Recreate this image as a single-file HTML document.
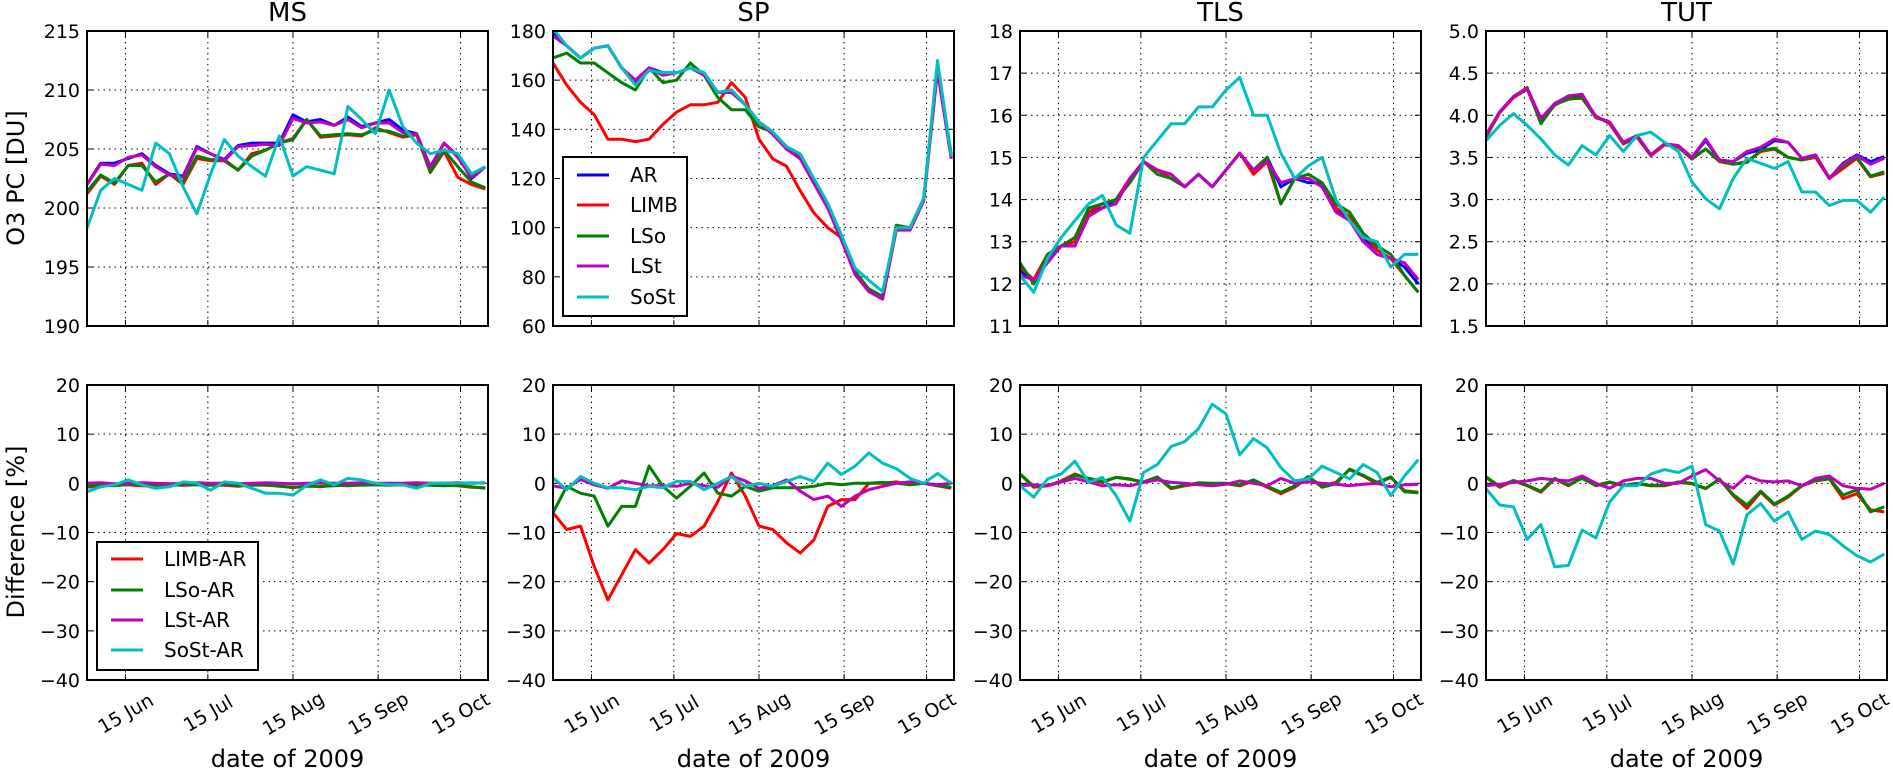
<!DOCTYPE html>
<html><head><meta charset="utf-8"><style>
html,body{margin:0;padding:0;background:#fff;}
svg{display:block;font-family:"DejaVu Sans","Liberation Sans",sans-serif;}
</style></head><body>
<svg id="chart" width="1893" height="773" viewBox="0 0 1893 773" xmlns="http://www.w3.org/2000/svg"></svg>
<script>
// ---- shared data ----
const days = [0,5,10,15,20,25,30,35,40,45,50,55,60,65,70,75,80,85,90,95,100,105,110,115,120,125,130,135,140,145];
const xTickDays = [14,44,75,106,136];
const xTickLabels = ["15 Jun","15 Jul","15 Aug","15 Sep","15 Oct"];
const panelTitles = ["MS","SP","TLS","TUT"];
const topSeriesNames = ["AR","LIMB","LSo","LSt","SoSt"];
const diffSeriesNames = ["LIMB-AR","LSo-AR","LSt-AR","SoSt-AR"];

// MS top
const msAR   = [202,203.8,203.8,204.2,204.6,203.6,202.9,202.7,205.2,204.6,204.1,205.3,205.5,205.5,205.5,207.9,207.3,207.5,207,207.7,206.9,207.2,207.5,206.6,206.3,203.5,205.5,204.4,202.5,203.5];
const msLIMB = [201.2,202.7,202.0,203.6,203.8,202.0,202.9,202.0,204.2,204.0,204.0,203.2,204.6,204.9,205.5,205.9,207.5,206.0,206.1,206.2,206.1,206.8,206.4,206.0,206.2,203.0,204.8,202.6,202.0,201.6];
const msLSo  = [201.4,202.8,202.1,203.6,203.6,202.2,202.9,202.2,204.4,204.1,204.1,203.2,204.4,204.9,205.5,205.8,207.5,206.1,206.2,206.3,206.2,206.6,206.5,206.1,206.3,203.1,204.9,203.5,202.2,201.7];
const msLSt  = [202,203.7,203.6,204.3,204.5,203.5,202.8,202.6,205.1,204.6,204.0,205.2,205.3,205.4,205.3,207.6,207.2,207.3,207.0,207.5,206.8,207.2,207.2,206.4,206.2,203.5,205.5,204.3,202.6,203.5];
const msSoSt = [198.3,201.5,202.5,202,201.5,205.5,204.6,201.8,199.5,202.9,205.8,204.4,203.5,202.7,206.1,202.7,203.5,203.2,202.9,208.6,207.5,206.3,210,206.9,205.5,204.6,204.9,204.6,202.9,203.5];
// SP top
const spAR   = [179,174,169,173,174,165,159,165,163,163,165,163,155,156,150,143,139,132,129,119,109,96,82,75,72,100,100,112,166,129];
const spLIMB = [167,158,151,146,136,136,135,136,142,147,150,150,151,159,153,136,128,125,115,106,100,96,81,74,71,100,100,112,164,128];
const spLSo  = [169,171,167,167,163,159,156,165,159,160,167,162,153,148,148,141,139,132,129,119,109,96,82,75,72,101,100,112,165,130];
const spLSt  = [178,174,169,173,174,165,160,165,162,163,165,162,155,155,150,143,138,132,128,118,108,95,81,74,71,99,99,111,164,128];
const spSoSt = [181,174,169,173,174,165,158,164,163,163,165,163,155,156,150,143,139,133,130,120,110,97,83.5,78.6,74,100,100,112,168,129];
// TLS top
const tlsAR   = [12.3,12.1,12.6,12.9,12.9,13.7,13.8,14.0,14.5,14.9,14.7,14.6,14.3,14.6,14.3,14.7,15.1,14.7,15.0,14.3,14.5,14.4,14.4,13.8,13.5,13.1,12.8,12.6,12.4,12.0];
const tlsLIMB = [12.4,12.1,12.7,12.9,13.0,13.7,13.9,14.0,14.5,14.9,14.7,14.5,14.3,14.6,14.3,14.7,15.1,14.6,14.9,13.9,14.5,14.5,14.3,13.8,13.6,13.2,12.8,12.6,12.2,11.8];
const tlsLSo  = [12.5,12.0,12.7,12.9,13.1,13.8,13.9,14.0,14.4,14.9,14.6,14.5,14.3,14.6,14.3,14.7,15.1,14.7,15.0,13.9,14.5,14.6,14.4,13.9,13.7,13.2,12.9,12.7,12.2,11.8];
const tlsLSt  = [12.2,12.1,12.5,12.9,12.9,13.6,13.8,13.9,14.5,14.9,14.7,14.6,14.3,14.6,14.3,14.7,15.1,14.7,14.9,14.4,14.5,14.5,14.3,13.7,13.5,13.0,12.7,12.6,12.5,12.1];
const tlsSoSt = [12.2,11.8,12.6,13.1,13.5,13.9,14.1,13.4,13.2,15.0,15.4,15.8,15.8,16.2,16.2,16.6,16.9,16.0,16.0,15.1,14.5,14.8,15.0,14.0,13.5,13.1,13.0,12.4,12.7,12.7];
// TUT top
const tutAR   = [3.76,4.04,4.22,4.32,3.96,4.14,4.22,4.24,3.98,3.92,3.68,3.76,3.53,3.66,3.64,3.5,3.7,3.47,3.45,3.55,3.59,3.7,3.68,3.49,3.53,3.25,3.43,3.53,3.45,3.51];
const tutLIMB = [3.74,4.03,4.21,4.31,3.92,4.12,4.2,4.2,3.99,3.9,3.66,3.74,3.52,3.65,3.62,3.48,3.6,3.45,3.42,3.45,3.57,3.6,3.5,3.47,3.5,3.25,3.37,3.49,3.27,3.31];
const tutLSo  = [3.75,4.04,4.22,4.33,3.9,4.13,4.19,4.21,3.97,3.92,3.67,3.75,3.53,3.66,3.63,3.49,3.6,3.46,3.42,3.44,3.58,3.61,3.5,3.47,3.52,3.26,3.4,3.5,3.28,3.33];
const tutLSt  = [3.77,4.04,4.22,4.32,3.96,4.14,4.23,4.25,3.98,3.92,3.68,3.76,3.53,3.66,3.64,3.5,3.72,3.47,3.45,3.57,3.62,3.72,3.68,3.49,3.53,3.25,3.42,3.52,3.42,3.49];
const tutSoSt = [3.7,3.88,4.02,3.88,3.72,3.53,3.41,3.64,3.53,3.76,3.57,3.76,3.8,3.68,3.57,3.21,3.01,2.89,3.25,3.49,3.43,3.37,3.45,3.09,3.09,2.93,2.99,2.99,2.85,3.03];

// Differences
const msLIMBd = [-0.8,-0.5,-0.4,-0.3,-0.5,-0.6,-0.3,-0.4,-0.3,-0.3,-0.4,-0.6,-0.3,-0.4,-0.5,-0.9,-0.5,-0.7,-0.4,-0.5,-0.3,-0.3,-0.3,-0.3,-0.4,-0.3,-0.4,-0.5,-0.8,-0.9];
const msLSod  = [-0.6,-0.4,-0.5,-0.2,-0.3,-0.5,-0.4,-0.3,-0.3,-0.4,-0.3,-0.5,-0.4,-0.3,-0.6,-0.8,-0.6,-0.6,-0.5,-0.4,-0.4,-0.3,-0.4,-0.3,-0.3,-0.4,-0.5,-0.4,-0.7,-1.0];
const msLStd  = [0,0.1,-0.1,0,0.1,0,-0.1,0,0.1,0,0,-0.1,0,0.1,0,-0.1,0,0.1,0,0,0.1,0,0,0,0.1,0,0,0.1,0,0.1];
const msSoStd = [-1.7,-0.7,-0.3,0.7,-0.3,-1,-0.7,0.3,0,-1.4,0.3,0,-1,-2,-2,-2.4,-0.4,0.7,-0.3,1,0.7,0,-0.3,-0.3,-1,0,0,0,0.1,0];
const spLIMBd = [-6,-9.4,-8.7,-16.9,-23.7,-18.6,-13.5,-16.2,-13.5,-10.2,-10.8,-8.7,-3.7,2.1,-2.6,-8.7,-9.4,-12.1,-14.2,-11.5,-4.7,-3.3,-3.3,0,0,0.3,-0.3,0,-0.5,-1];
const spLSod  = [-6,-0.6,-2,-2.6,-8.7,-4.7,-4.7,3.5,-0.6,-3,-0.6,2.1,-2,-2.6,-0.6,-1.6,-0.9,-0.9,-0.9,-0.6,0,-0.3,0,0,0.2,0,-0.3,0,-0.5,-0.8];
const spLStd  = [-0.5,-1,0.8,-0.3,-1,0.5,0,-0.5,-0.5,-0.6,0,-0.5,-0.8,1.5,0.5,-1,-0.5,0.7,-1.6,-3.3,-2.6,-4.7,-2.6,-1.3,-0.6,0,0.3,0,-0.3,0];
const spSoStd = [1.1,-1.3,1.4,0,-0.9,-0.9,-1.3,-0.6,-0.9,0.4,0.4,-1.3,0,1.4,-0.6,0,-0.6,0.4,1.4,0.4,4.1,1.8,3.5,6.2,4.1,3,1,0,2,0];
const tlsLIMBd = [1.9,-0.8,-0.5,0.5,1.9,0.9,0.2,1.2,0.9,0.2,1.2,-1.1,-0.5,-0.1,-0.1,-0.1,-0.5,0.5,-0.8,-2.1,-0.8,1.2,-0.5,0.2,2.8,1.5,-0.1,1.2,-1.5,-1.8];
const tlsLSod  = [1.9,-0.6,-0.4,0.3,1.7,1.0,0.4,1.2,0.8,0.3,1.3,-0.9,-0.4,0.1,0.0,0.0,-0.3,0.7,-0.6,-1.8,-0.5,1.4,-0.8,-0.1,2.9,1.6,0.2,1.3,-1.7,-1.9];
const tlsLStd  = [-0.5,-0.3,-0.5,0.3,1,0.3,-0.5,-0.3,-0.5,0.2,0.7,0.2,0,-0.3,-0.5,-0.2,0.5,0,-0.5,1,0,0.3,0,-0.2,-0.5,-0.2,0,-0.7,-0.3,-0.2];
const tlsSoStd = [-0.5,-2.8,0.9,1.9,4.5,0.2,1.2,-2.5,-7.7,2.2,3.8,7.5,8.5,11.1,16.1,14.1,5.8,9.1,7.2,3.2,0.5,0.9,3.5,2.2,0.9,3.8,2.2,-2.5,1.5,4.8];
const tutLIMBd = [1.2,-0.8,0.5,-0.5,-1.8,0.9,-0.5,1.2,-0.5,0.2,-0.5,-0.1,-0.5,-0.5,0.2,-0.1,-1.1,0.9,-2.5,-5.1,-1.8,-4.4,-2.8,-0.5,0.5,0.9,-3.1,-2.1,-5.4,-5.8];
const tutLSod  = [1.3,-0.6,0.6,-0.4,-1.6,1.0,-0.3,1.0,-0.4,0.3,-0.4,0.0,-0.4,-0.4,0.3,0.0,-1.0,0.8,-2.3,-4.4,-1.6,-4.2,-2.6,-0.4,0.6,1.0,-2.4,-1.3,-5.8,-4.8];
const tutLStd  = [-0.5,-0.2,0.2,0.5,1,0.7,0.5,1.5,0,-1,0.5,1,1,0,0,1.5,2.8,0.5,-1,1.5,0.5,0.3,0.5,-0.5,1,1.5,-0.5,-1,-1.2,0];
const tutSoStd = [-1.1,-4.4,-4.8,-11.4,-8.4,-17,-16.7,-9.5,-11.1,-3.8,-0.5,-0.5,1.9,2.8,2.2,3.5,-8.4,-9.7,-16.4,-6.4,-4.1,-7.7,-5.8,-11.4,-9.7,-10.4,-12.7,-14.7,-16,-14.4];

const topData = [
  [msAR,msLIMB,msLSo,msLSt,msSoSt],
  [spAR,spLIMB,spLSo,spLSt,spSoSt],
  [tlsAR,tlsLIMB,tlsLSo,tlsLSt,tlsSoSt],
  [tutAR,tutLIMB,tutLSo,tutLSt,tutSoSt]
];
const diffData = [
  [msLIMBd,msLSod,msLStd,msSoStd],
  [spLIMBd,spLSod,spLStd,spSoStd],
  [tlsLIMBd,tlsLSod,tlsLStd,tlsSoStd],
  [tutLIMBd,tutLSod,tutLStd,tutSoStd]
];
const topTicks = [
  [190,195,200,205,210,215],
  [60,80,100,120,140,160,180],
  [11,12,13,14,15,16,17,18],
  [1.5,2.0,2.5,3.0,3.5,4.0,4.5,5.0]
];
const topTickLabels = [
  ["190","195","200","205","210","215"],
  ["60","80","100","120","140","160","180"],
  ["11","12","13","14","15","16","17","18"],
  ["1.5","2.0","2.5","3.0","3.5","4.0","4.5","5.0"]
];
const diffTicks = [-40,-30,-20,-10,0,10,20];
const diffTickLabels = ["\u221240","\u221230","\u221220","\u221210","0","10","20"];

// ---- drawing ----
const NS = "http://www.w3.org/2000/svg";
const svg = document.getElementById('chart');
const topColors = ["#0000ff","#ff0000","#008000","#bf00bf","#00bfbf"];
const diffColors = ["#ff0000","#008000","#bf00bf","#00bfbf"];
const lefts = [87,553,1020,1486];
const PW = 401;
const rows = [{top:31,bottom:326},{top:385,bottom:680}];
const X0 = 0, X1 = 146;

function mk(tag, attrs, parent){
  const e = document.createElementNS(NS, tag);
  for (const k in attrs) e.setAttribute(k, attrs[k]);
  (parent||svg).appendChild(e);
  return e;
}
function xs(left, d){ return left + (d - X0) / (X1 - X0) * PW; }
function ys(row, v, lo, hi){ return row.bottom - (v - lo) / (hi - lo) * (row.bottom - row.top); }

function drawPanel(pi, ri, ticks, tickLabels, series, colors, names, pname){
  const left = lefts[pi], row = rows[ri];
  const lo = ticks[0], hi = ticks[ticks.length-1];
  const g = mk('g', {});
  
  
  const cid = 'clip' + pi + '_' + ri;
  const cp = mk('clipPath', {id: cid}, g);
  mk('rect', {x:left, y:row.top, width:PW, height:row.bottom-row.top}, cp);
  ticks.forEach((t,i) => {
    const y = ys(row, t, lo, hi);
    if (i>0 && i<ticks.length-1) {
      const gl = mk('line', {x1:left, x2:left+PW, y1:y, y2:y, stroke:'#000', 'stroke-width':1, 'stroke-dasharray':'1.5,4'}, g);
      
      
    }
    mk('line', {x1:left, x2:left+6, y1:y, y2:y, stroke:'#000', 'stroke-width':1}, g);
    mk('line', {x1:left+PW-6, x2:left+PW, y1:y, y2:y, stroke:'#000', 'stroke-width':1}, g);
    const tl = mk('text', {x:left-7, y:y+7, 'text-anchor':'end', 'font-size':19, fill:'#000'}, g);
    tl.textContent = tickLabels[i];
    
    
  });
  xTickDays.forEach((d,i) => {
    const x = xs(left, d);
    const gl = mk('line', {x1:x, x2:x, y1:row.top, y2:row.bottom, stroke:'#000', 'stroke-width':1, 'stroke-dasharray':'1.5,4'}, g);
    
    
    mk('line', {x1:x, x2:x, y1:row.bottom-6, y2:row.bottom, stroke:'#000', 'stroke-width':1}, g);
    mk('line', {x1:x, x2:x, y1:row.top, y2:row.top+6, stroke:'#000', 'stroke-width':1}, g);
    if (ri === 1) {
      const tl = mk('text', {x:x, y:720, 'text-anchor':'middle', 'font-size':19, fill:'#000', transform:'rotate(-30 '+x+' 713)'}, g);
      tl.textContent = xTickLabels[i];
      
      
    }
  });
  const sg = mk('g', {'clip-path':'url(#'+cid+')'}, g);
  series.forEach((vals, si) => {
    const pts = vals.map((v,k) => xs(left, days[k]).toFixed(1) + ',' + ys(row, v, lo, hi).toFixed(1)).join(' ');
    const pl = mk('polyline', {points:pts, fill:'none', stroke:colors[si], 'stroke-width':3, 'stroke-linejoin':'round'}, sg);
    
    
  });
  const fr = mk('rect', {x:left, y:row.top, width:PW, height:row.bottom-row.top, fill:'none', stroke:'#000', 'stroke-width':2}, g);
  
  
}

for (let p = 0; p < 4; p++) {
  drawPanel(p, 0, topTicks[p], topTickLabels[p], topData[p], topColors, topSeriesNames, panelTitles[p].toLowerCase() + '-top');
  drawPanel(p, 1, diffTicks, diffTickLabels, diffData[p], diffColors, diffSeriesNames, panelTitles[p].toLowerCase() + '-diff');
  const cx = lefts[p] + PW/2;
  const t = mk('text', {x:cx, y:21, 'text-anchor':'middle', 'font-size':26, fill:'#000'});
  t.textContent = panelTitles[p];
  
  
  const xl = mk('text', {x:cx, y:767, 'text-anchor':'middle', 'font-size':24, fill:'#000'});
  xl.textContent = 'date of 2009';
  
  
}
const yl1 = mk('text', {x:0, y:0, 'text-anchor':'middle', 'font-size':24, fill:'#000', transform:'translate(24 178) rotate(-90)'});
yl1.textContent = 'O3 PC [DU]';


const yl2 = mk('text', {x:0, y:0, 'text-anchor':'middle', 'font-size':24, fill:'#000', transform:'translate(24 532) rotate(-90)'});
yl2.textContent = 'Difference [%]';



function legend(x, y, w, h, names, colors, rowYs, lname){
  const g = mk('g', {});
  
  
  mk('rect', {x:x, y:y, width:w, height:h, fill:'#fff', stroke:'#000', 'stroke-width':2}, g);
  names.forEach((n,i) => {
    const e = mk('g', {}, g);
    
    
    mk('line', {x1:x+14, x2:x+46, y1:rowYs[i], y2:rowYs[i], stroke:colors[i], 'stroke-width':3}, e);
    const t = mk('text', {x:x+67, y:rowYs[i]+7, 'font-size':20, fill:'#000'}, e);
    t.textContent = n;
  });
}
legend(563, 157, 124, 159, topSeriesNames, topColors, [175,205,236,266,297], 'top-legend');
legend(97, 542, 161, 128, diffSeriesNames, diffColors, [559,590,620,650], 'diff-legend');
</script>
</body></html>
